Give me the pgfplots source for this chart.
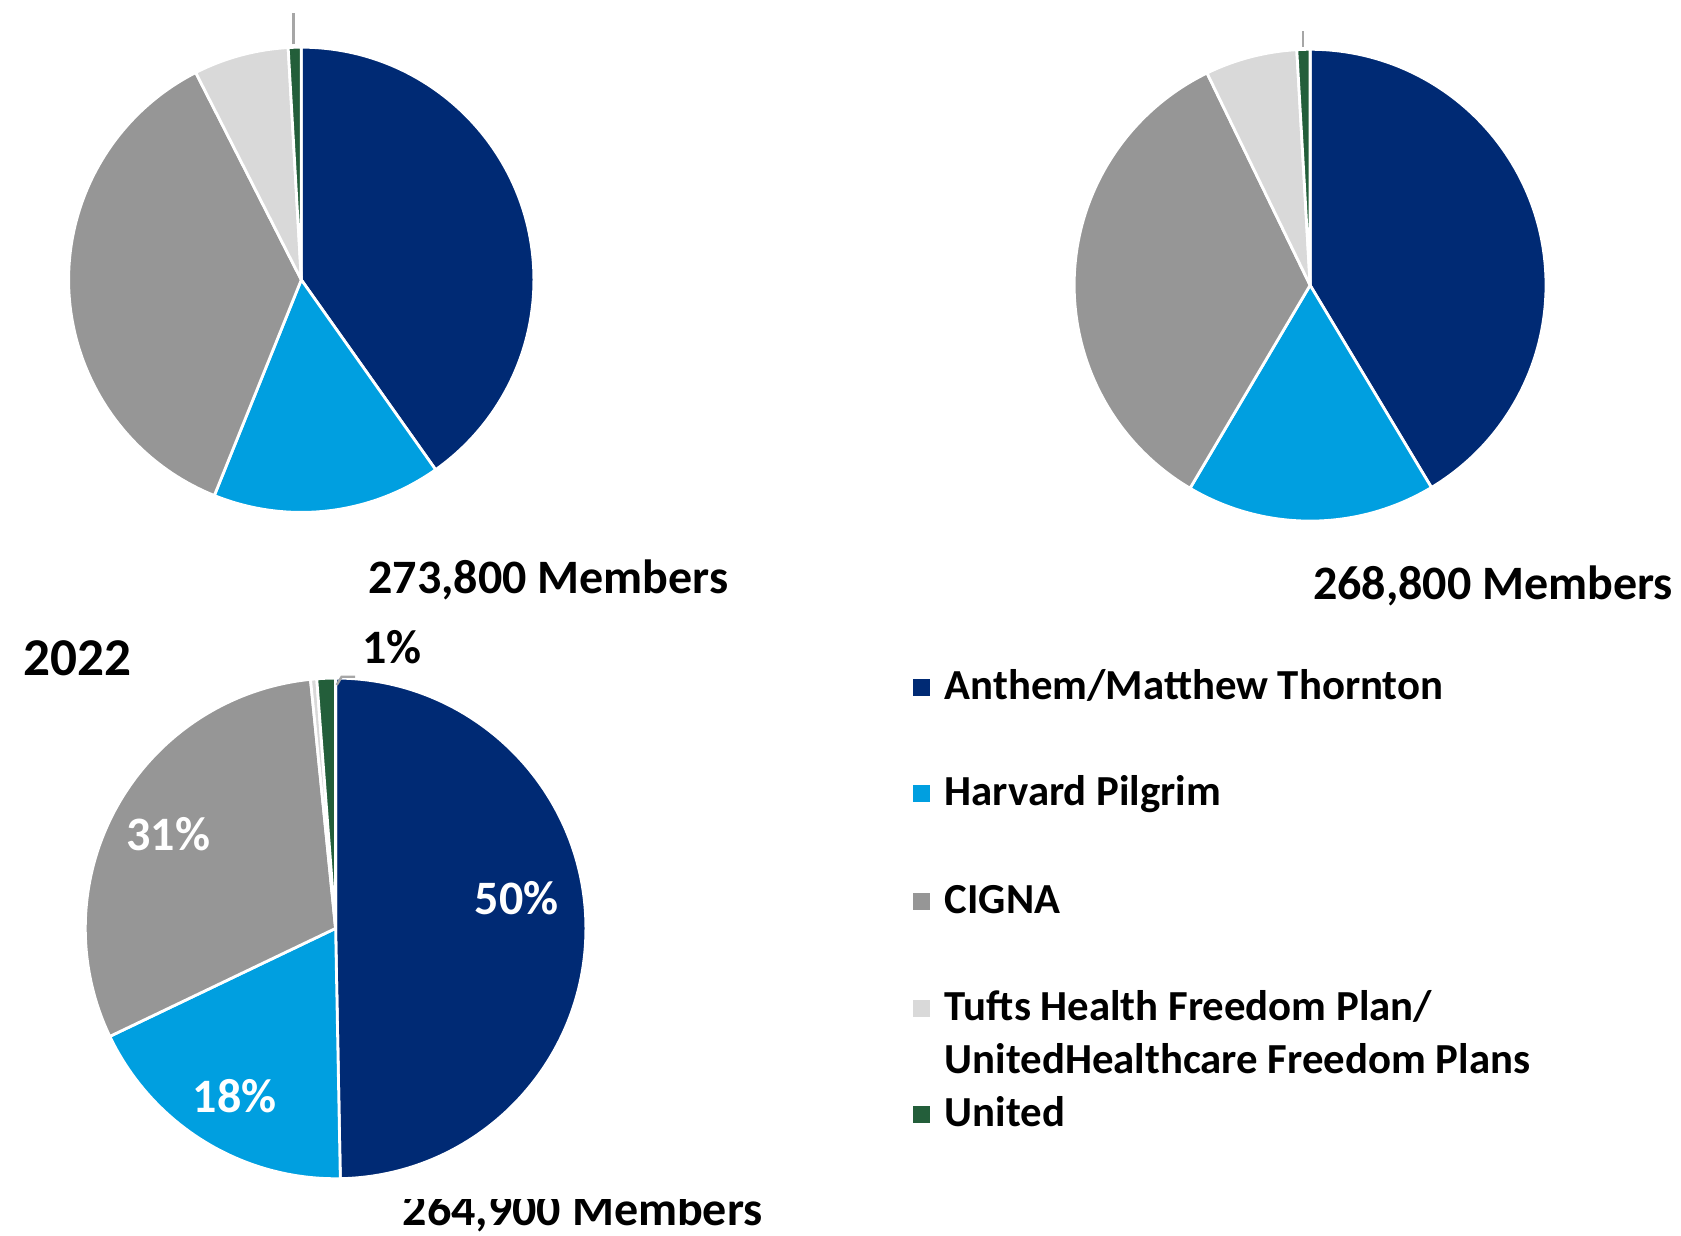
\documentclass[border=0pt]{standalone}
\usepackage{pgfplots}
\pgfplotsset{compat=1.18}
\usepackage{fontspec}
\setmainfont{Carlito}
\definecolor{anthem}{HTML}{002A74}
\definecolor{harvard}{HTML}{009FE0}
\definecolor{cigna}{HTML}{969696}
\definecolor{tufts}{HTML}{D9D9D9}
\definecolor{united}{HTML}{235E3A}
\definecolor{leader}{HTML}{A6A6A6}
% slice: cx, cy, r, start %, end % (cumulative, clockwise from 12 o'clock), colour
\newcommand\slice[6]{\filldraw[fill=#6,draw=white,line width=0.7pt,line join=round]
  (axis cs:#1,#2) -- ++({90-3.6*#4}:{#3*0.25pt})
  arc[start angle={90-3.6*#4}, end angle={90-3.6*#5}, radius={#3*0.25pt}] -- cycle;}
\newcommand\lbl{\fontsize{12}{14}\selectfont\bfseries}
\newcommand\leg{\fontsize{10.7}{13}\selectfont\bfseries}
\begin{document}
\begin{tikzpicture}
\begin{axis}[scale only axis, width=420.25pt, height=308.75pt,
  xmin=0, xmax=1681, ymin=0, ymax=1235, hide axis, clip=false]
\path (axis cs:0,0) rectangle (axis cs:1681,1235);
% ---- Pie 1 : shares 40.2, 15.9, 36.4, 6.6, 0.9
\slice{301.3}{955.2}{232.6}{0}{40.2}{anthem}
\slice{301.3}{955.2}{232.6}{40.2}{56.1}{harvard}
\slice{301.3}{955.2}{232.6}{56.1}{92.5}{cigna}
\slice{301.3}{955.2}{232.6}{92.5}{99.1}{tufts}
\slice{301.3}{955.2}{232.6}{99.1}{100}{united}
\draw[leader, line width=0.6pt] (axis cs:293.3,1190.7) -- (axis cs:293.3,1222.3);
\node[anchor=base west, inner sep=0, font=\lbl] at (axis cs:367.7,641.7) {273,800 Members};
% ---- Pie 2 : shares 41.4, 17.1, 34.3, 6.3, 0.9
\slice{1310.1}{949.8}{235.9}{0}{41.4}{anthem}
\slice{1310.1}{949.8}{235.9}{41.4}{58.5}{harvard}
\slice{1310.1}{949.8}{235.9}{58.5}{92.8}{cigna}
\slice{1310.1}{949.8}{235.9}{92.8}{99.1}{tufts}
\slice{1310.1}{949.8}{235.9}{99.1}{100}{united}
\draw[leader, line width=0.6pt] (axis cs:1302.7,1188.3) -- (axis cs:1302.7,1204);
\node[anchor=base west, inner sep=0, font=\lbl] at (axis cs:1312.2,635.7) {268,800 Members};
% ---- Pie 3 (2022) : shares 49.7, 18.2, 30.5, 0.4, 1.2
\slice{335.6}{306.6}{250.3}{0}{49.7}{anthem}
\slice{335.6}{306.6}{250.3}{49.7}{67.9}{harvard}
\slice{335.6}{306.6}{250.3}{67.9}{98.4}{cigna}
\slice{335.6}{306.6}{250.3}{98.4}{98.8}{tufts}
\slice{335.6}{306.6}{250.3}{98.8}{100}{united}
\node[anchor=center, inner sep=0, font=\lbl, text=white] at (axis cs:516.8,336.6) {50\%};
\node[anchor=center, inner sep=0, font=\lbl, text=white] at (axis cs:234.8,139.3) {18\%};
\node[anchor=center, inner sep=0, font=\lbl, text=white] at (axis cs:168.3,400.9) {31\%};
\draw[leader, line width=0.6pt] (axis cs:336.7,550) -- (axis cs:341.7,558.3) -- (axis cs:355,558.3);
\node[anchor=base west, inner sep=0, font=\lbl] at (axis cs:361.7,571.7) {1\%};
\node[anchor=base west, inner sep=0, font=\fontsize{13.3}{15}\selectfont\bfseries] at (axis cs:23,560) {2022};
\node[anchor=base west, inner sep=0, font=\lbl] at (axis cs:402,10) {264,900 Members};
\fill[white] (axis cs:390,36) rectangle (axis cs:790,52);
% ---- Legend
\fill[anthem]  (axis cs:913,539.2) rectangle (axis cs:930,556.2);
\node[anchor=base west, inner sep=0, font=\leg] at (axis cs:944,535.7) {Anthem/Matthew Thornton};
\fill[harvard] (axis cs:913,432.8) rectangle (axis cs:930,449.8);
\node[anchor=base west, inner sep=0, font=\leg] at (axis cs:944,429.3) {Harvard Pilgrim};
\fill[cigna]   (axis cs:913,325.2) rectangle (axis cs:930,342.2);
\node[anchor=base west, inner sep=0, font=\leg] at (axis cs:944,321.7) {CIGNA};
\fill[tufts]   (axis cs:913,217.8) rectangle (axis cs:930,234.8);
\node[anchor=base west, inner sep=0, font=\leg] at (axis cs:944,214.3) {Tufts Health Freedom Plan/};
\node[anchor=base west, inner sep=0, font=\leg] at (axis cs:944,161.7) {UnitedHealthcare Freedom Plans};
\fill[united]  (axis cs:913,111.8) rectangle (axis cs:930,128.8);
\node[anchor=base west, inner sep=0, font=\leg] at (axis cs:944,108.3) {United};
\end{axis}
\end{tikzpicture}
\end{document}
